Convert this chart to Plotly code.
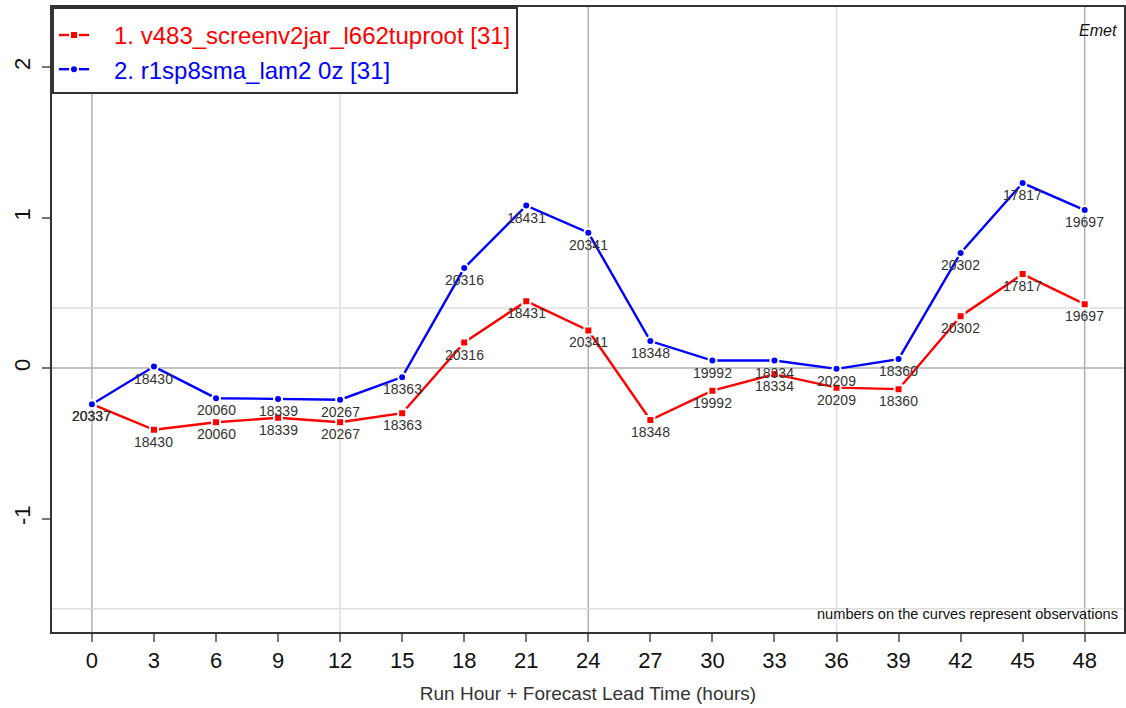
import plotly.graph_objects as go

lead_hours = [0, 3, 6, 9, 12, 15, 18, 21, 24, 27, 30, 33, 36, 39, 42, 45, 48]
series1_name = "1. v483_screenv2jar_l662tuproot [31]"
series2_name = "2. r1sp8sma_lam2 0z [31]"
series1 = [-0.24, -0.41, -0.36, -0.33, -0.36, -0.30, 0.17, 0.445, 0.25, -0.345, -0.15, -0.04, -0.13, -0.14, 0.345, 0.625, 0.425]
series2 = [-0.24, 0.01, -0.20, -0.205, -0.21, -0.06, 0.665, 1.08, 0.90, 0.18, 0.05, 0.05, -0.005, 0.06, 0.765, 1.23, 1.05]
observations = [20337, 18430, 20060, 18339, 20267, 18363, 20316, 18431, 20341, 18348, 19992, 18334, 20209, 18360, 20302, 17817, 19697]
x_ticks = [0, 3, 6, 9, 12, 15, 18, 21, 24, 27, 30, 33, 36, 39, 42, 45, 48]
y_ticks = [-1, 0, 1, 2]

FONT = "Liberation Sans, Arial, Helvetica, sans-serif"
RED = "#ff0000"
BLUE = "#0000ff"
PAD = "\u00a0\u00a0\u00a0"

fig = go.Figure()

# gridlines
for xv, col in [(0, "#b0b0b0"), (12, "#dedede"), (24, "#b0b0b0"), (36, "#dedede"), (48, "#b0b0b0")]:
    fig.add_shape(type="line", xref="x", yref="paper", x0=xv, x1=xv, y0=0, y1=1,
                  line=dict(color=col, width=1.5), layer="below")
for yv, col in [(0, "#b0b0b0"), (0.4, "#dedede"), (-1.6, "#dedede")]:
    fig.add_shape(type="line", xref="paper", yref="y", x0=0, x1=1, y0=yv, y1=yv,
                  line=dict(color=col, width=1.5), layer="below")

fig.add_trace(go.Scatter(
    x=lead_hours, y=series1, mode="lines+markers",
    name=f"<span style='color:{RED}'>{PAD}{series1_name}</span>",
    line=dict(color=RED, width=2.4),
    marker=dict(symbol="square", size=8, color=RED, line=dict(color="white", width=2)),
))
fig.add_trace(go.Scatter(
    x=lead_hours, y=series2, mode="lines+markers",
    name=f"<span style='color:{BLUE}'>{PAD}{series2_name}</span>",
    line=dict(color=BLUE, width=2.4),
    marker=dict(symbol="circle", size=8, color=BLUE, line=dict(color="white", width=2)),
))

for s in (series1, series2):
    for xv, yv, ob in zip(lead_hours, s, observations):
        fig.add_annotation(x=xv, y=yv, text=str(ob), showarrow=False, yshift=-12,
                           font=dict(family=FONT, size=14, color="#333333"))

fig.add_annotation(xref="paper", yref="paper", x=0.995, y=0.98, xanchor="right", yanchor="top",
                   text="<i>Emet</i>", showarrow=False,
                   font=dict(family=FONT, size=16, color="#111111"))
fig.add_annotation(xref="paper", yref="paper", x=0.996, y=0.013, xanchor="right", yanchor="bottom",
                   text="numbers on the curves represent observations", showarrow=False,
                   font=dict(family=FONT, size=14.6, color="#111111"))

fig.update_layout(
    width=1126, height=708,
    margin=dict(l=52, r=0, t=7, b=76),
    paper_bgcolor="white", plot_bgcolor="white",
    font=dict(family=FONT, color="#111111"),
    showlegend=True,
    legend=dict(x=0, y=1, xanchor="left", yanchor="top",
                bgcolor="white", bordercolor="#333333", borderwidth=2,
                font=dict(family=FONT, size=24),
                title=dict(text=" ", font=dict(size=3)),
                tracegroupgap=0),
    xaxis=dict(range=[-1.93, 49.9], tickmode="array", tickvals=x_ticks,
               ticktext=[str(v) for v in x_ticks],
               showgrid=False, zeroline=False,
               showline=True, linecolor="#333333", linewidth=2, mirror=True,
               ticks="outside", ticklen=8, tickcolor="#777777", tickwidth=1.5,
               tickfont=dict(family=FONT, size=22, color="#111111"),
               title=dict(text="Run Hour + Forecast Lead Time (hours)",
                          font=dict(family=FONT, size=19, color="#333333"), standoff=14)),
    yaxis=dict(range=[-1.754, 2.4], tickmode="array", tickvals=y_ticks,
               ticktext=[str(v) for v in y_ticks], tickangle=-90,
               showgrid=False, zeroline=False,
               showline=True, linecolor="#333333", linewidth=2, mirror=True,
               ticks="outside", ticklen=8, tickcolor="#777777", tickwidth=1.5,
               ticklabelstandoff=3,
               tickfont=dict(family=FONT, size=22, color="#111111")),
)

fig.write_html("out.html")
